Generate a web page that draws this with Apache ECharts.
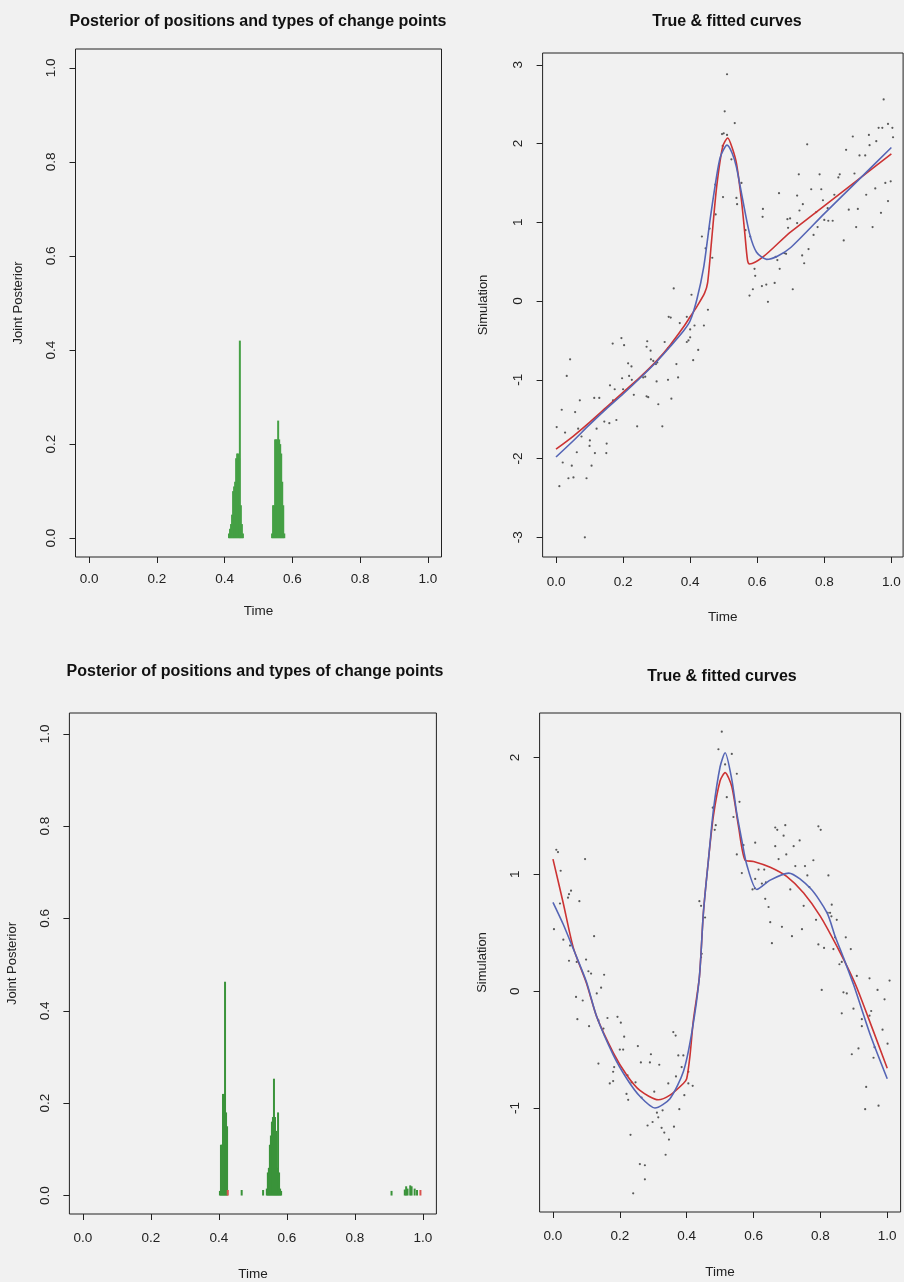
<!DOCTYPE html>
<html>
<head>
<meta charset="utf-8">
<title>Change point posterior and fitted curves</title>
<script src="https://cdn.jsdelivr.net/npm/echarts@6/dist/echarts.min.js"></script>
<style>
html, body { margin: 0; padding: 0; background: #f1f1f1; }
#chart { width: 904px; height: 1282px; }
</style>
</head>
<body>
<div id="chart"></div>
<script>
// ---- data ----
var timeTicks = [0, 0.2, 0.4, 0.6, 0.8, 1.0];
var probTicks = [0, 0.2, 0.4, 0.6, 0.8, 1.0];
var simTicksTop = [-3, -2, -1, 0, 1, 2, 3];
var simTicksBottom = [-1, 0, 1, 2];

// top-left: posterior of change point positions (green = one type)
var postTimeTop = [0.413, 0.416, 0.419, 0.422, 0.425, 0.428, 0.431, 0.434, 0.437, 0.440, 0.443, 0.445, 0.448, 0.451, 0.454,
                   0.540, 0.543, 0.546, 0.549, 0.552, 0.555, 0.558, 0.561, 0.564, 0.567, 0.570, 0.573, 0.576];
var postProbTop = [0.01, 0.02, 0.03, 0.05, 0.10, 0.11, 0.12, 0.17, 0.18, 0.18, 0.17, 0.42, 0.07, 0.03, 0.01,
                   0.01, 0.07, 0.07, 0.21, 0.21, 0.21, 0.25, 0.21, 0.20, 0.18, 0.12, 0.07, 0.01];

// bottom-left: green and red types
var postTimeBottom = [0.403, 0.406, 0.409, 0.412, 0.415, 0.418, 0.421, 0.424, 0.467,
                      0.530, 0.541, 0.544, 0.547, 0.550, 0.553, 0.556, 0.559, 0.562, 0.565, 0.568, 0.571, 0.574, 0.577, 0.580, 0.583,
                      0.908, 0.947, 0.951, 0.955, 0.963, 0.967, 0.976, 0.983];
var postProbBottom = [0.01, 0.11, 0.11, 0.22, 0.22, 0.463, 0.18, 0.15, 0.012,
                      0.012, 0.015, 0.05, 0.06, 0.11, 0.13, 0.16, 0.17, 0.253, 0.17, 0.14, 0.06, 0.18, 0.05, 0.015, 0.01,
                      0.01, 0.013, 0.02, 0.015, 0.022, 0.02, 0.015, 0.012];
var postTimeBottomRed = [0.426, 0.993];
var postProbBottomRed = [0.012, 0.012];

// top-right: observations, true curve (blue), fitted curve (red)
var obsTop = [
  [0.51,2.88],[0.503,2.41],[0.533,2.26],[0.495,2.12],[0.50,2.13],[0.51,2.11],[0.497,1.97],[0.523,1.80],[0.553,1.50],[0.475,1.48],
  [0.498,1.32],[0.538,1.31],[0.54,1.23],[0.476,1.10],[0.617,1.17],[0.616,1.07],[0.458,0.92],[0.565,0.90],[0.435,0.82],[0.579,0.82],
  [0.446,0.67],[0.466,0.55],[0.592,0.41],[0.594,0.32],[0.587,0.15],[0.614,0.19],[0.627,0.21],[0.652,0.23],[0.577,0.07],[0.632,-0.01],
  [0.453,-0.11],[0.351,0.16],[0.404,0.08],[0.336,-0.2],[0.342,-0.21],[0.39,-0.2],[0.667,0.41],[0.66,0.52],[0.655,0.56],[0.681,0.61],
  [0.686,0.60],[0.753,0.66],[0.734,0.58],[0.74,0.48],[0.706,0.15],[0.69,1.04],[0.698,1.05],[0.692,0.93],[0.719,0.99],[0.726,1.15],
  [0.736,1.23],[0.719,1.34],[0.665,1.37],[0.724,1.61],[0.749,1.99],[0.761,1.42],[0.786,1.61],[0.791,1.42],[0.776,1.13],[0.78,0.94],
  [0.768,0.84],[0.796,1.28],[0.80,1.03],[0.812,1.02],[0.825,1.02],[0.81,1.18],[0.83,1.35],[0.842,1.57],[0.846,1.61],[0.858,0.77],
  [0.865,1.92],[0.885,2.09],[0.873,1.16],[0.895,0.94],[0.905,1.85],[0.922,1.85],[0.89,1.62],[0.90,1.17],[0.925,1.35],[0.933,2.11],
  [0.935,1.98],[0.944,0.94],[0.952,1.43],[0.955,2.03],[0.962,2.2],[0.969,1.12],[0.982,1.50],[0.998,1.52],[0.99,1.27],[0.977,2.56],
  [0.973,2.2],[0.99,2.25],[1.003,2.2],[1.005,2.08],
  [0.369,-0.28],[0.413,-0.31],[0.441,-0.31],[0.40,-0.36],[0.40,-0.46],[0.395,-0.5],[0.39,-0.52],[0.324,-0.52],[0.334,-0.6],[0.424,-0.62],
  [0.272,-0.51],[0.282,-0.63],[0.27,-0.58],[0.29,-0.76],[0.283,-0.74],[0.298,-0.8],[0.302,-0.78],[0.359,-0.80],[0.409,-0.75],[0.195,-0.47],
  [0.203,-0.56],[0.169,-0.54],[0.215,-0.79],[0.225,-0.83],[0.042,-0.74],[0.032,-0.95],[0.197,-0.98],[0.218,-0.95],[0.226,-1.0],[0.26,-0.97],
  [0.266,-0.96],[0.3,-1.02],[0.334,-1.0],[0.364,-0.97],[0.161,-1.07],[0.175,-1.12],[0.2,-1.12],[0.232,-1.19],[0.27,-1.21],[0.275,-1.22],
  [0.344,-1.24],[0.305,-1.31],[0.114,-1.23],[0.129,-1.23],[0.17,-1.26],[0.071,-1.26],[0.017,-1.38],[0.057,-1.41],[0.002,-1.6],[0.144,-1.53],
  [0.159,-1.55],[0.18,-1.51],[0.242,-1.59],[0.317,-1.59],[0.027,-1.67],[0.066,-1.62],[0.121,-1.62],[0.076,-1.72],[0.101,-1.77],[0.1,-1.84],
  [0.151,-1.81],[0.062,-1.92],[0.116,-1.93],[0.15,-1.93],[0.02,-2.05],[0.047,-2.09],[0.106,-2.09],[0.037,-2.25],[0.052,-2.24],[0.091,-2.25],
  [0.01,-2.35],[0.086,-3.0]
];
var trueTop = [
  [0,-1.98],[0.05,-1.78],[0.1,-1.57],[0.15,-1.37],[0.2,-1.18],[0.25,-0.98],[0.3,-0.77],[0.34,-0.58],[0.38,-0.38],[0.40,-0.25],
  [0.42,0.02],[0.44,0.42],[0.46,1.05],[0.475,1.48],[0.49,1.83],[0.51,1.98],[0.525,1.88],[0.538,1.70],[0.557,1.28],[0.577,0.86],
  [0.598,0.62],[0.628,0.53],[0.66,0.57],[0.7,0.68],[0.8,1.11],[0.9,1.53],[1.0,1.95]
];
var fitTop = [
  [0,-1.88],[0.05,-1.72],[0.1,-1.54],[0.15,-1.35],[0.2,-1.16],[0.25,-0.97],[0.3,-0.76],[0.34,-0.56],[0.38,-0.33],[0.40,-0.2],
  [0.42,-0.07],[0.443,0.1],[0.452,0.23],[0.464,0.77],[0.479,1.45],[0.497,1.96],[0.512,2.07],[0.525,1.95],[0.538,1.75],[0.553,1.28],
  [0.563,0.86],[0.571,0.52],[0.577,0.47],[0.7,0.88],[0.8,1.21],[0.9,1.54],[1.0,1.87]
];

// bottom-right
var obsBottom = [
  [0.505,2.22],[0.495,2.07],[0.535,2.03],[0.515,1.94],[0.55,1.86],[0.52,1.66],[0.558,1.62],[0.478,1.57],[0.54,1.49],[0.487,1.42],
  [0.484,1.38],[0.665,1.40],[0.671,1.38],[0.695,1.42],[0.794,1.41],[0.801,1.38],[0.69,1.33],[0.738,1.29],[0.605,1.27],[0.57,1.25],
  [0.665,1.24],[0.72,1.24],[0.55,1.17],[0.698,1.17],[0.675,1.13],[0.779,1.12],[0.725,1.07],[0.754,1.07],[0.824,0.99],[0.615,1.04],
  [0.632,1.04],[0.565,1.01],[0.605,0.96],[0.625,0.92],[0.761,0.99],[0.637,0.93],[0.71,0.87],[0.597,0.87],[0.604,0.88],[0.767,0.89],
  [0.635,0.79],[0.75,0.73],[0.822,0.67],[0.829,0.67],[0.834,0.74],[0.833,0.64],[0.849,0.61],[0.787,0.61],[0.645,0.72],[0.65,0.59],
  [0.685,0.55],[0.745,0.53],[0.715,0.47],[0.876,0.46],[0.844,0.46],[0.655,0.41],[0.794,0.40],[0.811,0.37],[0.839,0.36],[0.891,0.36],
  [0.857,0.23],[0.909,0.13],[0.947,0.11],[0.438,0.77],[0.443,0.73],[0.455,0.63],[0.445,0.32],[0.443,0.29],[0.010,1.21],[0.015,1.19],
  [0.096,1.13],[0.023,1.03],[0.003,0.53],[0.021,0.75],[0.054,0.86],[0.048,0.83],[0.045,0.80],[0.079,0.77],[0.031,0.44],[0.123,0.47],
  [0.051,0.39],
  [0.048,0.26],[0.071,0.25],[0.099,0.27],[0.106,0.17],[0.114,0.15],[0.153,0.14],[0.144,0.03],[0.131,-0.02],[0.069,-0.05],[0.089,-0.08],
  [0.073,-0.24],[0.108,-0.30],[0.136,-0.25],[0.151,-0.32],[0.163,-0.23],[0.193,-0.22],[0.203,-0.27],[0.213,-0.39],[0.2,-0.5],[0.21,-0.5],
  [0.254,-0.47],[0.136,-0.62],[0.183,-0.65],[0.18,-0.69],[0.17,-0.79],[0.18,-0.77],[0.263,-0.61],[0.29,-0.61],[0.318,-0.63],[0.293,-0.54],
  [0.223,-0.72],[0.235,-0.78],[0.247,-0.78],[0.22,-0.88],[0.225,-0.93],[0.265,-0.91],[0.303,-0.86],[0.345,-0.79],[0.368,-0.73],[0.385,-0.65],
  [0.375,-0.55],[0.39,-0.55],[0.36,-0.35],[0.367,-0.38],[0.405,-0.69],[0.405,-0.79],[0.418,-0.81],[0.393,-0.89],[0.378,-1.01],[0.328,-1.02],
  [0.311,-1.04],[0.315,-1.08],[0.298,-1.12],[0.283,-1.15],[0.325,-1.17],[0.333,-1.21],[0.362,-1.16],[0.347,-1.27],[0.232,-1.23],[0.337,-1.40],
  [0.26,-1.48],[0.275,-1.49],[0.275,-1.61],[0.24,-1.73],
  [0.804,0.01],[0.864,0.25],[0.869,-0.01],[0.879,-0.02],[0.864,-0.19],[0.899,-0.15],[0.924,-0.24],[0.924,-0.30],[0.952,-0.17],[0.947,-0.21],
  [0.971,0.01],[0.992,-0.07],[1.007,0.09],[0.986,-0.33],[1.001,-0.45],[0.962,-0.48],[0.914,-0.49],[0.894,-0.54],[0.959,-0.57],[0.937,-0.82],
  [0.974,-0.98],[0.934,-1.01]
];
var trueBottom = [
  [0,0.76],[0.031,0.57],[0.061,0.36],[0.1,0.08],[0.131,-0.22],[0.181,-0.55],[0.221,-0.75],[0.26,-0.90],[0.305,-1.0],[0.35,-0.92],
  [0.39,-0.69],[0.415,-0.36],[0.438,0.12],[0.45,0.67],[0.465,1.12],[0.48,1.55],[0.50,1.92],[0.515,2.04],[0.535,1.81],[0.55,1.52],
  [0.565,1.29],[0.58,1.08],[0.61,0.87],[0.65,0.95],[0.705,1.01],[0.77,0.88],[0.82,0.67],[0.844,0.47],[0.87,0.28],[0.9,0.05],
  [0.95,-0.38],[1.0,-0.75]
];
var fitBottom = [
  [0,1.13],[0.031,0.75],[0.061,0.37],[0.1,0.07],[0.131,-0.22],[0.181,-0.53],[0.221,-0.72],[0.26,-0.85],[0.315,-0.93],[0.35,-0.89],
  [0.39,-0.79],[0.40,-0.75],[0.41,-0.55],[0.42,-0.25],[0.438,0.12],[0.45,0.67],[0.465,1.12],[0.48,1.5],[0.50,1.8],[0.515,1.87],
  [0.535,1.75],[0.555,1.41],[0.575,1.12],[0.6,1.11],[0.65,1.06],[0.70,0.98],[0.75,0.84],[0.80,0.64],[0.85,0.38],[0.9,0.09],
  [0.924,-0.08],[1.0,-0.66]
];

function zip(a, b) {
  return a.map(function (v, i) { return [v, b[i]]; });
}

var ink = '#222';
var font = 'Liberation Sans, Arial, sans-serif';

function stick(params, api) {
  var top = api.coord([api.value(0), api.value(1)]);
  var base = api.coord([api.value(0), 0]);
  return {
    type: 'line',
    shape: { x1: top[0], y1: top[1], x2: base[0], y2: base[1] },
    style: { stroke: api.visual('color'), lineWidth: 2 }
  };
}

function xAxisFor(idx, gap, margin, hi) {
  return {
    type: 'value', gridIndex: idx, min: -0.04, max: hi,
    name: 'Time', nameLocation: 'middle', nameGap: gap,
    nameTextStyle: { fontSize: 13.5, color: ink, fontFamily: font },
    axisLine: { show: false, onZero: false },
    axisTick: { show: true, length: 6, lineStyle: { color: ink }, customValues: timeTicks },
    axisLabel: { fontSize: 13.5, color: ink, margin: margin, customValues: timeTicks,
                 formatter: function (v) { return v.toFixed(1); } },
    splitLine: { show: false }
  };
}

function yAxisFor(idx, name, lo, hi, ticks, gap, digits) {
  return {
    type: 'value', gridIndex: idx, min: lo, max: hi,
    name: name, nameLocation: 'middle', nameGap: gap,
    nameTextStyle: { fontSize: 13, color: ink, fontFamily: font },
    axisLine: { show: false, onZero: false },
    axisTick: { show: true, length: 6, lineStyle: { color: ink }, customValues: ticks },
    axisLabel: { fontSize: 13.5, color: ink, margin: 17, rotate: 90, customValues: ticks,
                 formatter: function (v) { return v.toFixed(digits); } },
    splitLine: { show: false }
  };
}

function gridAt(l, t, w, h) {
  return { left: l, top: t, width: w, height: h, show: true, borderColor: ink, borderWidth: 1,
           backgroundColor: 'transparent' };
}

function titleAt(x, y, text) {
  return { type: 'text', x: x, y: y,
           style: { text: text, fill: '#111', font: 'bold 16px ' + font, textAlign: 'center', textVerticalAlign: 'middle' } };
}

var chart = echarts.init(document.getElementById('chart'));
chart.setOption({
  animation: false,
  backgroundColor: '#f1f1f1',
  textStyle: { fontFamily: font },
  graphic: [
    titleAt(258, 22, 'Posterior of positions and types of change points'),
    titleAt(727, 22, 'True & fitted curves'),
    titleAt(255, 672, 'Posterior of positions and types of change points'),
    titleAt(722, 677, 'True & fitted curves')
  ],
  grid: [
    gridAt(75.5, 49, 366, 508),
    gridAt(542.6, 53, 360.5, 504),
    gridAt(69.4, 713, 367, 502),
    gridAt(539.6, 713, 361, 499)
  ],
  xAxis: [xAxisFor(0, 47, 15, 1.04), xAxisFor(1, 53, 18, 1.035), xAxisFor(2, 53, 17, 1.04), xAxisFor(3, 53, 17, 1.04)],
  yAxis: [
    yAxisFor(0, 'Joint Posterior', -0.04, 1.04, probTicks, 51, 1),
    yAxisFor(1, 'Simulation', -3.25, 3.15, simTicksTop, 53, 0),
    yAxisFor(2, 'Joint Posterior', -0.04, 1.045, probTicks, 50, 1),
    yAxisFor(3, 'Simulation', -1.89, 2.38, simTicksBottom, 51, 0)
  ],
  series: [
    { type: 'custom', xAxisIndex: 0, yAxisIndex: 0, renderItem: stick, itemStyle: { color: '#45a045' },
      encode: { x: 0, y: 1 }, data: zip(postTimeTop, postProbTop) },
    { type: 'custom', xAxisIndex: 2, yAxisIndex: 2, renderItem: stick, itemStyle: { color: '#3a933a' },
      encode: { x: 0, y: 1 }, data: zip(postTimeBottom, postProbBottom) },
    { type: 'custom', xAxisIndex: 2, yAxisIndex: 2, renderItem: stick, itemStyle: { color: '#d9534f' },
      encode: { x: 0, y: 1 }, data: zip(postTimeBottomRed, postProbBottomRed) },

    { type: 'scatter', xAxisIndex: 1, yAxisIndex: 1, symbolSize: 2.2, itemStyle: { color: '#333' }, data: obsTop },
    { type: 'line', xAxisIndex: 1, yAxisIndex: 1, data: fitTop, showSymbol: false, smooth: 0.25,
      lineStyle: { color: '#cc3333', width: 1.6 } },
    { type: 'line', xAxisIndex: 1, yAxisIndex: 1, data: trueTop, showSymbol: false, smooth: 0.25,
      lineStyle: { color: '#5565b5', width: 1.6 } },

    { type: 'scatter', xAxisIndex: 3, yAxisIndex: 3, symbolSize: 2.2, itemStyle: { color: '#333' }, data: obsBottom },
    { type: 'line', xAxisIndex: 3, yAxisIndex: 3, data: fitBottom, showSymbol: false, smooth: 0.25,
      lineStyle: { color: '#cc3333', width: 1.6 } },
    { type: 'line', xAxisIndex: 3, yAxisIndex: 3, data: trueBottom, showSymbol: false, smooth: 0.25,
      lineStyle: { color: '#5565b5', width: 1.6 } }
  ]
});
</script>
</body>
</html>
